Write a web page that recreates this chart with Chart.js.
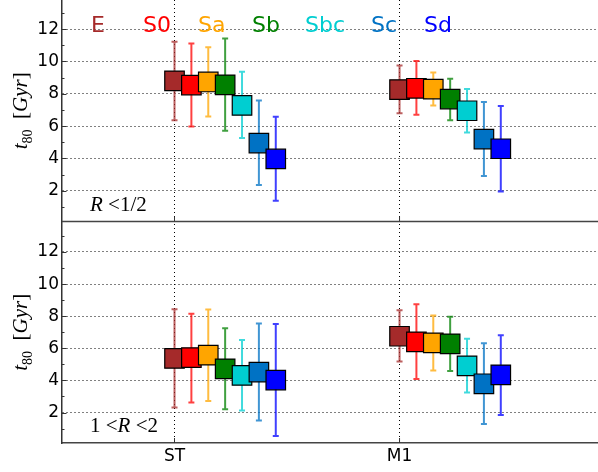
<!DOCTYPE html>
<html>
<head>
<meta charset="utf-8">
<script src="https://cdn.jsdelivr.net/npm/chart.js@4"></script>
<style>
  body { margin: 0; background: #fff; }
  canvas { display: block; }
</style>
</head>
<body>
<canvas id="t80Chart" width="598" height="472"></canvas>
<script>
// morphological types and x categories
const types = ['E', 'S0', 'Sa', 'Sb', 'Sbc', 'Sc', 'Sd'];
const cats = ['ST', 'M1'];
const typeColors = ['#a52a2a', '#ff0000', '#ffa500', '#008000', '#00ced1', '#0072c4', '#0000ff'];

// R < 1/2 (top panel)
const in_ST    = [8.80, 8.54, 8.73, 8.55, 7.28, 4.95, 3.97];
const in_ST_hi = [11.21, 11.11, 10.87, 11.42, 9.36, 7.59, 6.58];
const in_ST_lo = [6.37, 5.98, 6.60, 5.71, 5.26, 2.35, 1.38];
const in_M1    = [8.26, 8.34, 8.29, 7.67, 6.95, 5.20, 4.60];
const in_M1_hi = [9.75, 10.02, 9.32, 8.93, 8.29, 7.49, 7.24];
const in_M1_lo = [6.79, 6.70, 7.28, 6.37, 5.61, 2.91, 1.96];

// 1 < R < 2 (bottom panel)
const out_ST    = [5.37, 5.42, 5.57, 4.72, 4.31, 4.52, 4.02];
const out_ST_hi = [8.43, 8.16, 8.41, 7.25, 6.51, 7.54, 7.52];
const out_ST_lo = [2.31, 2.62, 2.71, 2.21, 2.12, 1.50, 0.53];
const out_M1    = [6.75, 6.40, 6.34, 6.28, 4.91, 3.79, 4.35];
const out_M1_hi = [8.37, 8.75, 8.04, 7.97, 6.59, 6.32, 6.82];
const out_M1_lo = [5.17, 4.08, 4.61, 4.59, 3.24, 1.28, 1.84];

// y tick values shown
const yTickLabels = [2, 4, 6, 8, 10, 12];

const typeStep = 0.075; // horizontal shift between types

function alpha(hex, a) {
	const n = parseInt(hex.slice(1), 16);
	return `rgba(${n >> 16},${(n >> 8) & 255},${n & 255},${a})`;
}

function makeSet(i, axis, st, stLo, stHi, m1, m1Lo, m1Hi) {
	return {
		label: types[i],
		yAxisID: axis,
		data: [
			{ x: 0 + i * typeStep, y: st[i] },
			{ x: 1 + i * typeStep, y: m1[i] }
		],
		lo: [stLo[i], m1Lo[i]],
		hi: [stHi[i], m1Hi[i]],
		errColor: alpha(typeColors[i], 0.75),
		backgroundColor: typeColors[i],
		borderColor: '#000',
		borderWidth: 1.2,
		pointStyle: 'rect',
		pointRadius: 13.8,
		pointHoverRadius: 13.8,
		showLine: false,
		order: 20 - i
	};
}

const datasets = [];
types.forEach((t, i) => {
	datasets.push(makeSet(i, 'yTop', in_ST, in_ST_lo, in_ST_hi, in_M1, in_M1_lo, in_M1_hi));
	datasets.push(makeSet(i, 'yBot', out_ST, out_ST_lo, out_ST_hi, out_M1, out_M1_lo, out_M1_hi));
});

// error bars, drawn under the squares
const errorBars = {
	id: 'errorBars',
	beforeDatasetsDraw(chart) {
		const ctx = chart.ctx;
		chart.data.datasets.forEach((ds, i) => {
			const meta = chart.getDatasetMeta(i);
			const ys = chart.scales[ds.yAxisID];
			meta.data.forEach((pt, j) => {
				const top = ys.getPixelForValue(ds.hi[j]);
				const bot = ys.getPixelForValue(ds.lo[j]);
				ctx.save();
				ctx.strokeStyle = ds.errColor;
				ctx.lineWidth = 2;
				ctx.beginPath();
				ctx.moveTo(pt.x, top);
				ctx.lineTo(pt.x, bot);
				ctx.moveTo(pt.x - 3, top);
				ctx.lineTo(pt.x + 3, top);
				ctx.moveTo(pt.x - 3, bot);
				ctx.lineTo(pt.x + 3, bot);
				ctx.stroke();
				ctx.restore();
			});
		});
	}
};

// y label with subscript, drawn rotated
function drawYTitle(ctx, cx, cy) {
	const parts = [
		{ t: 't', f: 'italic 21px "Liberation Serif"', dy: 0 },
		{ t: '80', f: '14px "Liberation Serif"', dy: 5 },
		{ t: '  [', f: '21px "Liberation Serif"', dy: 0 },
		{ t: 'Gyr', f: 'italic 21px "Liberation Serif"', dy: 0 },
		{ t: ']', f: '21px "Liberation Serif"', dy: 0 }
	];
	ctx.save();
	ctx.translate(cx, cy);
	ctx.rotate(-Math.PI / 2);
	let w = 0;
	parts.forEach(p => { ctx.font = p.f; w += ctx.measureText(p.t).width; });
	let x = -w / 2;
	ctx.fillStyle = '#000';
	ctx.textBaseline = 'alphabetic';
	parts.forEach(p => {
		ctx.font = p.f;
		ctx.fillText(p.t, x, 7 + p.dy);
		x += ctx.measureText(p.t).width;
	});
	ctx.restore();
}

function drawMath(ctx, x, y, parts) {
	ctx.save();
	ctx.fillStyle = '#000';
	parts.forEach(p => {
		ctx.font = (p.i ? 'italic ' : '') + '21px "Liberation Serif"';
		ctx.fillText(p.t, x, y);
		x += ctx.measureText(p.t).width;
	});
	ctx.restore();
}

const annotations = {
	id: 'annotations',
	afterDraw(chart) {
		const ctx = chart.ctx;
		const top = chart.scales.yTop, bot = chart.scales.yBot, xs = chart.scales.x;
		const left = chart.chartArea.left, right = chart.chartArea.right;

		// inward tick marks
		ctx.save();
		ctx.strokeStyle = '#333';
		ctx.lineWidth = 1;
		[top, bot].forEach(s => {
			for (let v = 1; v <= 13; v++) {
				const y = Math.round(s.getPixelForValue(v)) + 0.5;
				ctx.beginPath();
				ctx.moveTo(left, y);
				ctx.lineTo(left + (v % 2 ? 2.5 : 4.5), y);
				ctx.stroke();
			}
		});
		[0, 1].forEach(v => {
			const x = xs.getPixelForValue(v);
			ctx.beginPath();
			ctx.moveTo(x, chart.chartArea.bottom);
			ctx.lineTo(x, chart.chartArea.bottom - 5);
			ctx.moveTo(x, bot.top);
			ctx.lineTo(x, bot.top - 5);
			ctx.stroke();
		});
		ctx.restore();

		// separator between panels
		ctx.save();
		ctx.strokeStyle = '#444';
		ctx.lineWidth = 1.6;
		ctx.beginPath();
		ctx.moveTo(left, bot.top);
		ctx.lineTo(right, bot.top);
		ctx.stroke();
		ctx.restore();

		// type names across the top
		const typeX = [91, 143, 198, 252, 305, 371, 424];
		ctx.save();
		ctx.font = '22px "DejaVu Sans"';
		ctx.textAlign = 'left';
		ctx.textBaseline = 'alphabetic';
		types.forEach((t, i) => {
			ctx.fillStyle = typeColors[i];
			ctx.fillText(t, typeX[i], 32);
		});
		ctx.restore();

		// panel labels
		drawMath(ctx, 90, 211, [{ t: 'R', i: true }, { t: ' <', i: false }, { t: '1/2', i: false }]);
		drawMath(ctx, 90, 432, [{ t: '1 <', i: false }, { t: 'R', i: true }, { t: ' <', i: false }, { t: '2', i: false }]);

		// axis titles
		drawYTitle(ctx, 20, (top.top + top.bottom) / 2);
		drawYTitle(ctx, 20, (bot.top + bot.bottom) / 2);
	}
};

function noPad(scale) {
	scale.paddingTop = 0;
	scale.paddingBottom = 0;
	scale.paddingLeft = 0;
	scale.paddingRight = 0;
}

function yAxis(max) {
	return {
		type: 'linear',
		position: 'left',
		stack: 'panels',
		stackWeight: 1,
		min: 0.1,
		max: max,
		afterFit(scale) { scale.width = 62; noPad(scale); },
		afterBuildTicks(scale) { scale.ticks = yTickLabels.map(v => ({ value: v })); },
		ticks: {
			padding: 3,
			color: '#000',
			font: { family: 'DejaVu Sans', size: 17 }
		},
		grid: { color: '#000', lineWidth: 1, drawTicks: false },
		border: { color: '#333', width: 1.5, dash: [1, 3] }
	};
}

const config = {
	type: 'scatter',
	data: { datasets: datasets },
	options: {
		responsive: false,
		animation: false,
		layout: { padding: 0, autoPadding: false },
		plugins: {
			legend: { display: false },
			tooltip: { enabled: false }
		},
		scales: {
			x: {
				type: 'linear',
				min: -0.5,
				max: 1.882,
				afterFit(scale) { scale.height = 29; noPad(scale); },
				afterBuildTicks(scale) { scale.ticks = cats.map((c, i) => ({ value: i })); },
				ticks: {
					padding: 3,
					color: '#000',
					font: { family: 'DejaVu Sans', size: 17 },
					callback: v => cats[v]
				},
				grid: { color: '#000', lineWidth: 1, drawTicks: false },
				border: { color: '#444', width: 1.6, dash: [1, 3] }
			},
			// the first stacked axis lands at the bottom
			yBot: yAxis(13.9),
			yTop: yAxis(13.8)
		}
	},
	plugins: [errorBars, annotations]
};

const t80Chart = new Chart(document.getElementById('t80Chart'), config);
</script>
</body>
</html>
